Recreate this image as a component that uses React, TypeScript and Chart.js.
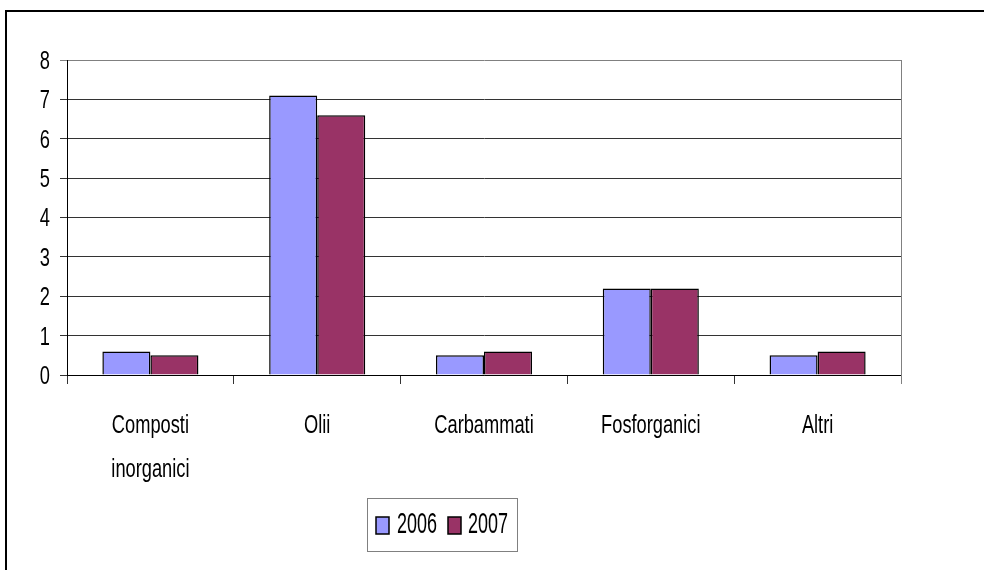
import React, { useEffect, useRef } from "react";
import { Chart, registerables } from "chart.js";

Chart.register(...registerables);

const categories: (string | string[])[] = [
  ["Composti", "inorganici"],
  "Olii",
  "Carbammati",
  "Fosforganici",
  "Altri",
];
const seriesNames = ["2006", "2007"];
const values2006 = [0.6, 7.1, 0.5, 2.2, 0.5];
const values2007 = [0.5, 6.6, 0.6, 2.2, 0.6];
const colors = ["#9999FF", "#993366"];

const FONT = "'Liberation Sans', Arial, sans-serif";
const AXIS_SIZE = 25;
const AXIS_SX = 0.73;
const LEGEND_SIZE = 30;
const LEGEND_SX = 0.6;

// Draws condensed tick labels (the reference uses a narrow face), the gray
// plot-area right border, and the boxed legend.
const narrowText = {
  id: "narrowText",
  afterDraw(chart: any) {
    const { ctx, chartArea } = chart;
    const xs = chart.scales.x;
    const ys = chart.scales.y;
    ctx.save();
    // plot area right border
    ctx.strokeStyle = "#808080";
    ctx.lineWidth = 1;
    ctx.beginPath();
    ctx.moveTo(Math.round(chartArea.right) + 0.5, chartArea.top);
    ctx.lineTo(Math.round(chartArea.right) + 0.5, chartArea.bottom + 9);
    ctx.stroke();

    ctx.fillStyle = "#000";
    ctx.font = `${AXIS_SIZE}px ${FONT}`;
    ctx.textBaseline = "alphabetic";
    const capHalf = AXIS_SIZE * 0.358;

    // y tick labels
    ctx.textAlign = "right";
    ys.ticks.forEach((t: any, i: number) => {
      const y = ys.getPixelForTick(i);
      ctx.save();
      ctx.translate(chartArea.left - 17, y + capHalf);
      ctx.scale(AXIS_SX, 1);
      ctx.fillText(String(t.label), 0, 0);
      ctx.restore();
    });

    // x tick labels
    ctx.textAlign = "center";
    const labels = chart.data.labels;
    labels.forEach((lab: any, i: number) => {
      const x = xs.getPixelForTick(i);
      const lines = Array.isArray(lab) ? lab : [lab];
      lines.forEach((ln: string, j: number) => {
        ctx.save();
        ctx.translate(x, chartArea.bottom + 49 + capHalf + j * 44);
        ctx.scale(AXIS_SX, 1);
        ctx.fillText(ln, 0, 0);
        ctx.restore();
      });
    });

    // legend
    const lx = 367.5, ly = 498.5, lw = 150, lh = 53;
    ctx.fillStyle = "#fff";
    ctx.fillRect(lx, ly, lw, lh);
    ctx.strokeStyle = "#808080";
    ctx.lineWidth = 1;
    ctx.strokeRect(lx, ly, lw, lh);
    const markerX = [376, 448];
    const textX = [397, 468];
    ctx.font = `${LEGEND_SIZE}px ${FONT}`;
    ctx.textAlign = "left";
    chart.data.datasets.forEach((ds: any, i: number) => {
      ctx.fillStyle = ds.backgroundColor;
      ctx.fillRect(markerX[i], 517, 13, 17);
      ctx.strokeStyle = "#000";
      ctx.lineWidth = 1.5;
      ctx.strokeRect(markerX[i], 517, 13, 17);
      ctx.fillStyle = "#000";
      ctx.save();
      ctx.translate(textX[i], 533);
      ctx.scale(LEGEND_SX, 1);
      ctx.fillText(ds.label, 0, 0);
      ctx.restore();
    });
    ctx.restore();
  },
};

export default function App() {
  const ref = useRef<HTMLCanvasElement | null>(null);

  useEffect(() => {
    if (!ref.current) return;
    const chart = new Chart(ref.current, {
      type: "bar",
      data: {
        labels: categories,
        datasets: [
          {
            label: seriesNames[0],
            data: values2006,
            backgroundColor: colors[0],
            borderColor: "#000",
            borderWidth: 1.5,
            categoryPercentage: 0.576,
            barPercentage: 1,
          },
          {
            label: seriesNames[1],
            data: values2007,
            backgroundColor: colors[1],
            borderColor: "#000",
            borderWidth: 1.5,
            categoryPercentage: 0.576,
            barPercentage: 1,
          },
        ],
      },
      options: {
        responsive: false,
        animation: false,
        layout: { padding: { top: 60, right: 83, left: 0, bottom: 0 } },
        plugins: {
          legend: { display: false },
          tooltip: { enabled: false },
          title: { display: false },
        },
        scales: {
          x: {
            offset: true,
            grid: {
              offset: true,
              drawOnChartArea: false,
              drawTicks: true,
              tickLength: 9,
              color: "#333",
            },
            border: { display: true, color: "#000", width: 1 },
            ticks: {
              color: "rgba(0,0,0,0)",
              maxRotation: 0,
              autoSkip: false,
              font: { family: FONT, size: AXIS_SIZE },
            },
            afterFit(scale: any) {
              scale.height = 195;
            },
          },
          y: {
            min: 0,
            max: 8,
            ticks: {
              stepSize: 1,
              color: "rgba(0,0,0,0)",
              font: { family: FONT, size: AXIS_SIZE },
            },
            grid: {
              color: (c: any) => (c.tick && c.tick.value === 8 ? "#808080" : "#333"),
              tickLength: 7,
              lineWidth: 1,
            },
            border: { display: true, color: "#000", width: 1 },
            afterFit(scale: any) {
              scale.width = 67;
            },
          },
        },
      },
      plugins: [narrowText],
    });
    return () => chart.destroy();
  }, []);

  return (
    <div style={{ position: "absolute", left: 0, top: 0, width: 984, height: 570, overflow: "hidden", background: "#fff" }}>
      <div
        style={{
          position: "absolute",
          left: 5,
          top: 10,
          width: 1000,
          height: 600,
          border: "2px solid #000",
          boxSizing: "border-box",
        }}
      />
      <canvas ref={ref} width={984} height={570} style={{ position: "absolute", left: 0, top: 0 }} />
    </div>
  );
}
